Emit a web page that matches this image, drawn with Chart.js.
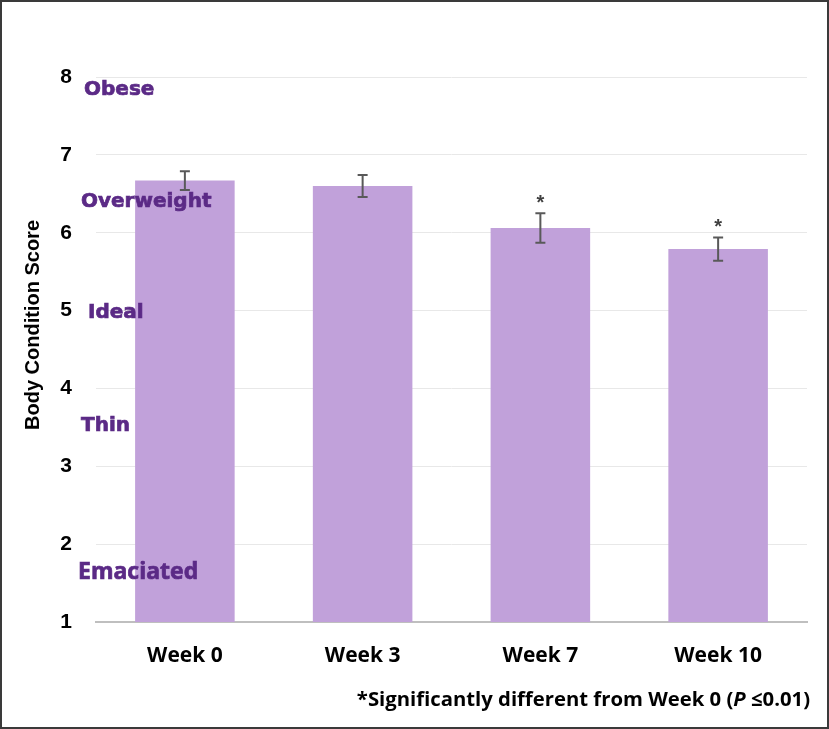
<!DOCTYPE html>
<html>
<head>
<meta charset="utf-8">
<script src="https://cdn.jsdelivr.net/npm/chart.js@4/dist/chart.umd.min.js"></script>
<style>
  body { margin: 0; background: #fff; }
  #wrap { width: 829px; height: 729px; position: relative; }
</style>
</head>
<body>
<div id="wrap"><canvas id="chart1" width="829" height="729"></canvas></div>
<script>
const weeks = ["Week 0", "Week 3", "Week 7", "Week 10"];
const scores = [6.67, 6.60, 6.06, 5.79];
const errors = [0.12, 0.14, 0.19, 0.15];
const significant = [false, false, true, true];
const yTicks = [1, 2, 3, 4, 5, 6, 7, 8];
const bodyLabels = ["Obese", "Overweight", "Ideal", "Thin", "Emaciated"];
const yTitle = "Body Condition Score";
const footnote = "*Significantly different from Week 0 (";

const arial = "'Liberation Sans', Arial, sans-serif";
const sans = "'Open Sans', 'Noto Sans', sans-serif";
const heavy = "'DejaVu Sans', sans-serif";

// error bars, asterisks, category notes, footnote, frame
const extras = {
  id: "extras",
  afterDatasetsDraw(chart) {
    const ctx = chart.ctx;
    const x = chart.scales.x;
    const y = chart.scales.y;
    ctx.save();
    ctx.strokeStyle = "#595959";
    ctx.lineWidth = 2;
    scores.forEach((v, i) => {
      const cx = x.getPixelForValue(i);
      const top = y.getPixelForValue(v + errors[i]);
      const bot = y.getPixelForValue(v - errors[i]);
      ctx.beginPath();
      ctx.moveTo(cx, top); ctx.lineTo(cx, bot);
      ctx.moveTo(cx - 5, top); ctx.lineTo(cx + 5, top);
      ctx.moveTo(cx - 5, bot); ctx.lineTo(cx + 5, bot);
      ctx.stroke();
      if (significant[i]) {
        ctx.fillStyle = "#404040";
        ctx.font = "bold 20px " + arial;
        ctx.textAlign = "center";
        ctx.textBaseline = "middle";
        ctx.fillText("*", cx, top - 10);
      }
    });

    // body condition notes
    const notePos = [
      { x: 84, v: 7.83, font: "bold 20px " + heavy },
      { x: 81, v: 6.40, font: "bold 20px " + heavy },
      { x: 88, v: 4.97, font: "bold 20px " + heavy },
      { x: 81, v: 3.52, font: "bold 20px " + heavy },
      { x: 78, v: 1.63, font: "bold 23px " + sans },
    ];
    ctx.fillStyle = "#5b2a86";
    ctx.strokeStyle = "#5b2a86";
    ctx.lineWidth = 0.7;
    ctx.textAlign = "left";
    ctx.textBaseline = "middle";
    bodyLabels.forEach((t, i) => {
      ctx.font = notePos[i].font;
      const py = y.getPixelForValue(notePos[i].v);
      ctx.fillText(t, notePos[i].x, py);
      ctx.strokeText(t, notePos[i].x, py);
    });

    // y title
    ctx.save();
    ctx.translate(33, 325);
    ctx.rotate(-Math.PI / 2);
    ctx.fillStyle = "#000";
    ctx.textAlign = "center";
    ctx.font = "bold 20px " + arial;
    ctx.fillText(yTitle, 0, 0);
    ctx.restore();

    // footnote
    ctx.fillStyle = "#000";
    ctx.textBaseline = "middle";
    ctx.textAlign = "left";
    const fy = 700;
    const tail = "\u22640.01)";
    ctx.font = "italic bold 20.3px " + sans;
    const pw = ctx.measureText("P ").width;
    ctx.font = "bold 20.3px " + sans;
    const w1 = ctx.measureText(footnote).width;
    const w2 = ctx.measureText(tail).width;
    let fx = 810 - (w1 + pw + w2);
    ctx.fillText(footnote, fx, fy);
    fx += w1;
    ctx.font = "italic bold 20.3px " + sans;
    ctx.fillText("P ", fx, fy);
    fx += pw;
    ctx.font = "bold 20.3px " + sans;
    ctx.fillText(tail, fx, fy);

    // frame
    ctx.strokeStyle = "#3a3a3a";
    ctx.lineWidth = 2;
    ctx.strokeRect(1, 1, 827, 727);
    ctx.restore();
  },
};

const ctx = document.getElementById("chart1").getContext("2d");
const chart = new Chart(ctx, {
  type: "bar",
  data: {
    labels: weeks,
    datasets: [
      {
        label: "Body Condition Score",
        data: scores,
        backgroundColor: "#c1a1da",
        borderWidth: 0,
        barPercentage: 0.56,
        categoryPercentage: 1.0,
      },
    ],
  },
  options: {
    responsive: false,
    animation: false,
    devicePixelRatio: 1,
    layout: { padding: { left: 20, right: 22, top: 77, bottom: 57 } },
    plugins: { legend: { display: false }, tooltip: { enabled: false } },
    scales: {
      x: {
        grid: { display: false, drawTicks: false },
        border: { display: true, color: "#bfbfbf", width: 2 },
        ticks: {
          color: "#000",
          padding: 21,
          font: { family: sans, size: 21, weight: "bold" },
        },
        afterFit: (s) => { s.height = 50; },
      },
      y: {
        min: 1,
        max: 8,
        afterBuildTicks: (s) => { s.ticks = yTicks.map((v) => ({ value: v })); },
        grid: { color: "#e8e8e8", lineWidth: 1, drawTicks: false },
        border: { display: false },
        ticks: {
          color: "#000",
          padding: 24,
          font: { family: arial, size: 21, weight: "bold" },
        },
        afterFit: (s) => { s.width = 76; },
      },
    },
  },
  plugins: [extras],
});
</script>
</body>
</html>
